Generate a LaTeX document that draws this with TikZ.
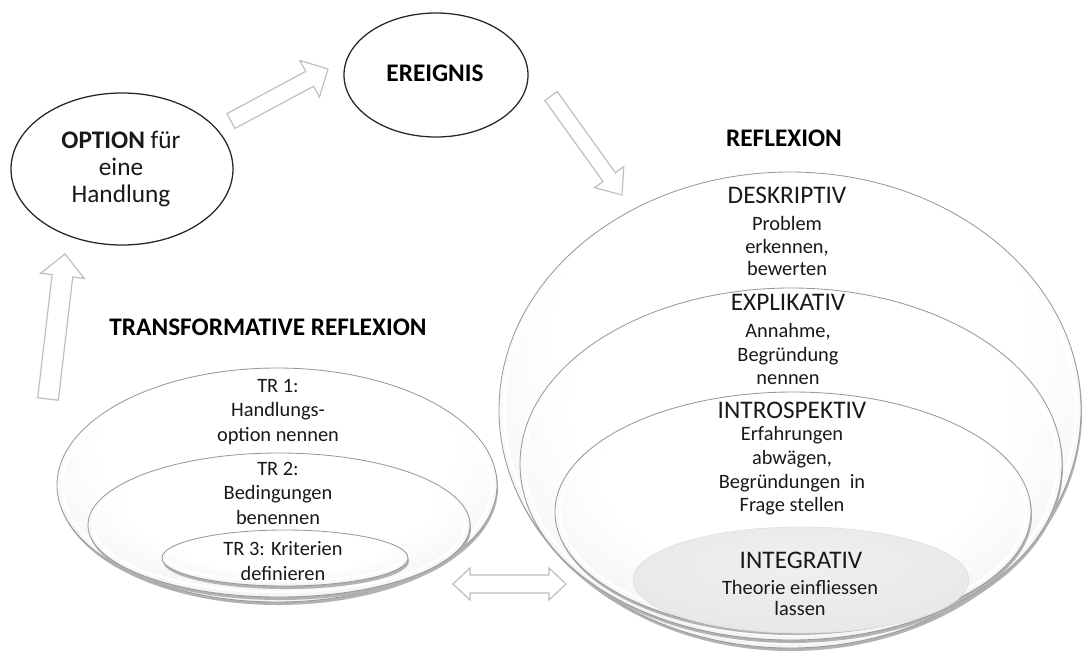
\documentclass[tikz,border=0pt]{standalone}
\usepackage{fontspec}
\setmainfont{Carlito}
\usetikzlibrary{calc}
\pgfdeclareradialshading{bubble}{\pgfpoint{0bp}{10bp}}{color(0bp)=(white); color(20bp)=(white); color(34bp)=(black!5); color(44bp)=(black!11); color(50bp)=(black!20); color(54bp)=(black!28); color(60bp)=(black!36); color(100bp)=(black!36)}
\pgfdeclareradialshading{flatbub}{\pgfpoint{0bp}{8bp}}{color(0bp)=(black!6); color(30bp)=(black!9); color(50bp)=(black!16); color(58bp)=(black!24); color(100bp)=(black!24)}
\tikzset{
  blockarr/.style={draw=black!25, fill=white, line width=0.85pt, line join=miter},
  plainell/.style={draw=black!85, line width=0.9pt},
  bub/.style={draw=black!40, line width=0.6pt, shading=bubble},
  flatb/.style={draw=black!12, line width=0.5pt, shading=flatbub},
  ttl/.style={font=\fontsize{18}{21}\selectfont, inner sep=0pt, text=black!90},
  bttl/.style={font=\bfseries\fontsize{18}{21}\selectfont, inner sep=0pt},
  bodytxt/.style={font=\fontsize{14.5}{17}\selectfont, align=center, inner sep=0pt, text=black!90}
}
\newcommand\mybubble[3]{% center, rx, ry
  \pgfmathsetmacro\rxi{#2-5}\pgfmathsetmacro\ryi{#3-5}
  \fill[black!30] ($(#1)+(1,3)$) ellipse [x radius=#2, y radius=#3];
  \path[bub] (#1) ellipse [x radius=#2, y radius=#3];
  \draw[white, line width=1.8pt] (#1) ellipse [x radius=\rxi, y radius=\ryi];
}
\newcommand\hollowsingle[5]{% tail, tip, half shaft, half head, head length
  \coordinate (hb) at ($(#2)!#5!(#1)$);
  \draw[blockarr] ($(#1)!#3!90:(#2)$) -- ($(hb)!#3!-90:(#1)$) -- ($(hb)!#4!-90:(#1)$) -- (#2)
    -- ($(hb)!#4!90:(#1)$) -- ($(hb)!#3!90:(#1)$) -- ($(#1)!#3!-90:(#2)$) -- cycle;
}
\newcommand\hollowdouble[5]{%
  \coordinate (ha) at ($(#1)!#5!(#2)$);
  \coordinate (hb) at ($(#2)!#5!(#1)$);
  \draw[blockarr] (#1) -- ($(ha)!#4!90:(#2)$) -- ($(ha)!#3!90:(#2)$) -- ($(hb)!#3!-90:(#1)$)
    -- ($(hb)!#4!-90:(#1)$) -- (#2) -- ($(hb)!#4!90:(#1)$) -- ($(hb)!#3!90:(#1)$)
    -- ($(ha)!#3!-90:(#2)$) -- ($(ha)!#4!-90:(#2)$) -- cycle;
}
\begin{document}
\begin{tikzpicture}[x=0.025cm, y=-0.025cm]
\useasboundingbox (0,0) rectangle (1091,653);
% centres
\coordinate (optc) at (122,169);
\coordinate (ereic) at (436,75);
\coordinate (tr1c) at (277,485);
\coordinate (tr2c) at (279,525);
\coordinate (tr3c) at (285,558);
\coordinate (r1c) at (790,410);
\coordinate (r2c) at (791,464);
\coordinate (r3c) at (793,512);
\coordinate (r4c) at (801,580);
% plain ellipses
\draw[plainell] (optc) ellipse [x radius=111, y radius=76];
\draw[plainell] (ereic) ellipse [x radius=92, y radius=62];
% transformative bubbles
\mybubble{tr1c}{220}{117}
\mybubble{tr2c}{191}{72}
\mybubble{tr3c}{123}{28}
% reflexion bubbles
\mybubble{r1c}{291}{238}
\mybubble{r2c}{271}{176}
\mybubble{r3c}{238}{120}
\path[flatb] (r4c) ellipse [x radius=168, y radius=53];
% arrows
\coordinate (a1t) at (231,121); \coordinate (a1h) at (328,69);
\coordinate (a2t) at (551,96);  \coordinate (a2h) at (622,195);
\coordinate (a3t) at (48,399);  \coordinate (a3h) at (65,254);
\coordinate (a4l) at (453,584); \coordinate (a4r) at (566,584);
\hollowsingle{a1t}{a1h}{0.21cm}{0.52cm}{0.52cm}
\hollowsingle{a2t}{a2h}{0.19cm}{0.45cm}{0.55cm}
\hollowsingle{a3t}{a3h}{0.26cm}{0.55cm}{0.55cm}
\hollowdouble{a4l}{a4r}{0.225cm}{0.4cm}{0.425cm}
% texts
\node[ttl, font=\fontsize{18}{19.5}\selectfont, align=center] (optT) at (121,169) {\textbf{OPTION} für\\eine\\Handlung};
\node[bttl] (ereT) at (435,73) {EREIGNIS};
\node[bttl] (refT) at (784,138) {REFLEXION};
\node[bttl] (trT) at (268,327) {TRANSFORMATIVE REFLEXION};
\node[bodytxt, font=\fontsize{14.5}{17.4}\selectfont] (tr1T) at (278,412) {TR 1:\\Handlungs-\\option nennen};
\node[bodytxt, font=\fontsize{14.5}{17.4}\selectfont] (tr2T) at (278,493) {TR 2:\\Bedingungen\\benennen};
\node[bodytxt, font=\fontsize{14.5}{17.7}\selectfont] (tr3T) at (283,561) {TR 3: Kriterien\\definieren};
\node[ttl] (deskT) at (787,195) {DESKRIPTIV};
\node[bodytxt, font=\fontsize{14.5}{16.3}\selectfont] (deskB) at (787,246) {Problem\\erkennen,\\bewerten};
\node[ttl] (explT) at (788,302) {EXPLIKATIV};
\node[bodytxt] (explB) at (788,354) {Annahme,\\Begründung\\nennen};
\node[ttl] (introT) at (792,410) {INTROSPEKTIV};
\node[bodytxt, font=\fontsize{14.5}{16.8}\selectfont] (introB) at (792,471) {Erfahrungen\\abwägen,\\Begründungen\ \ in\\Frage stellen};
\node[ttl] (integT) at (801,560) {INTEGRATIV};
\node[bodytxt, font=\fontsize{14.5}{15.6}\selectfont] (integB) at (800,598) {Theorie einfliessen\\lassen};
\end{tikzpicture}
\end{document}
